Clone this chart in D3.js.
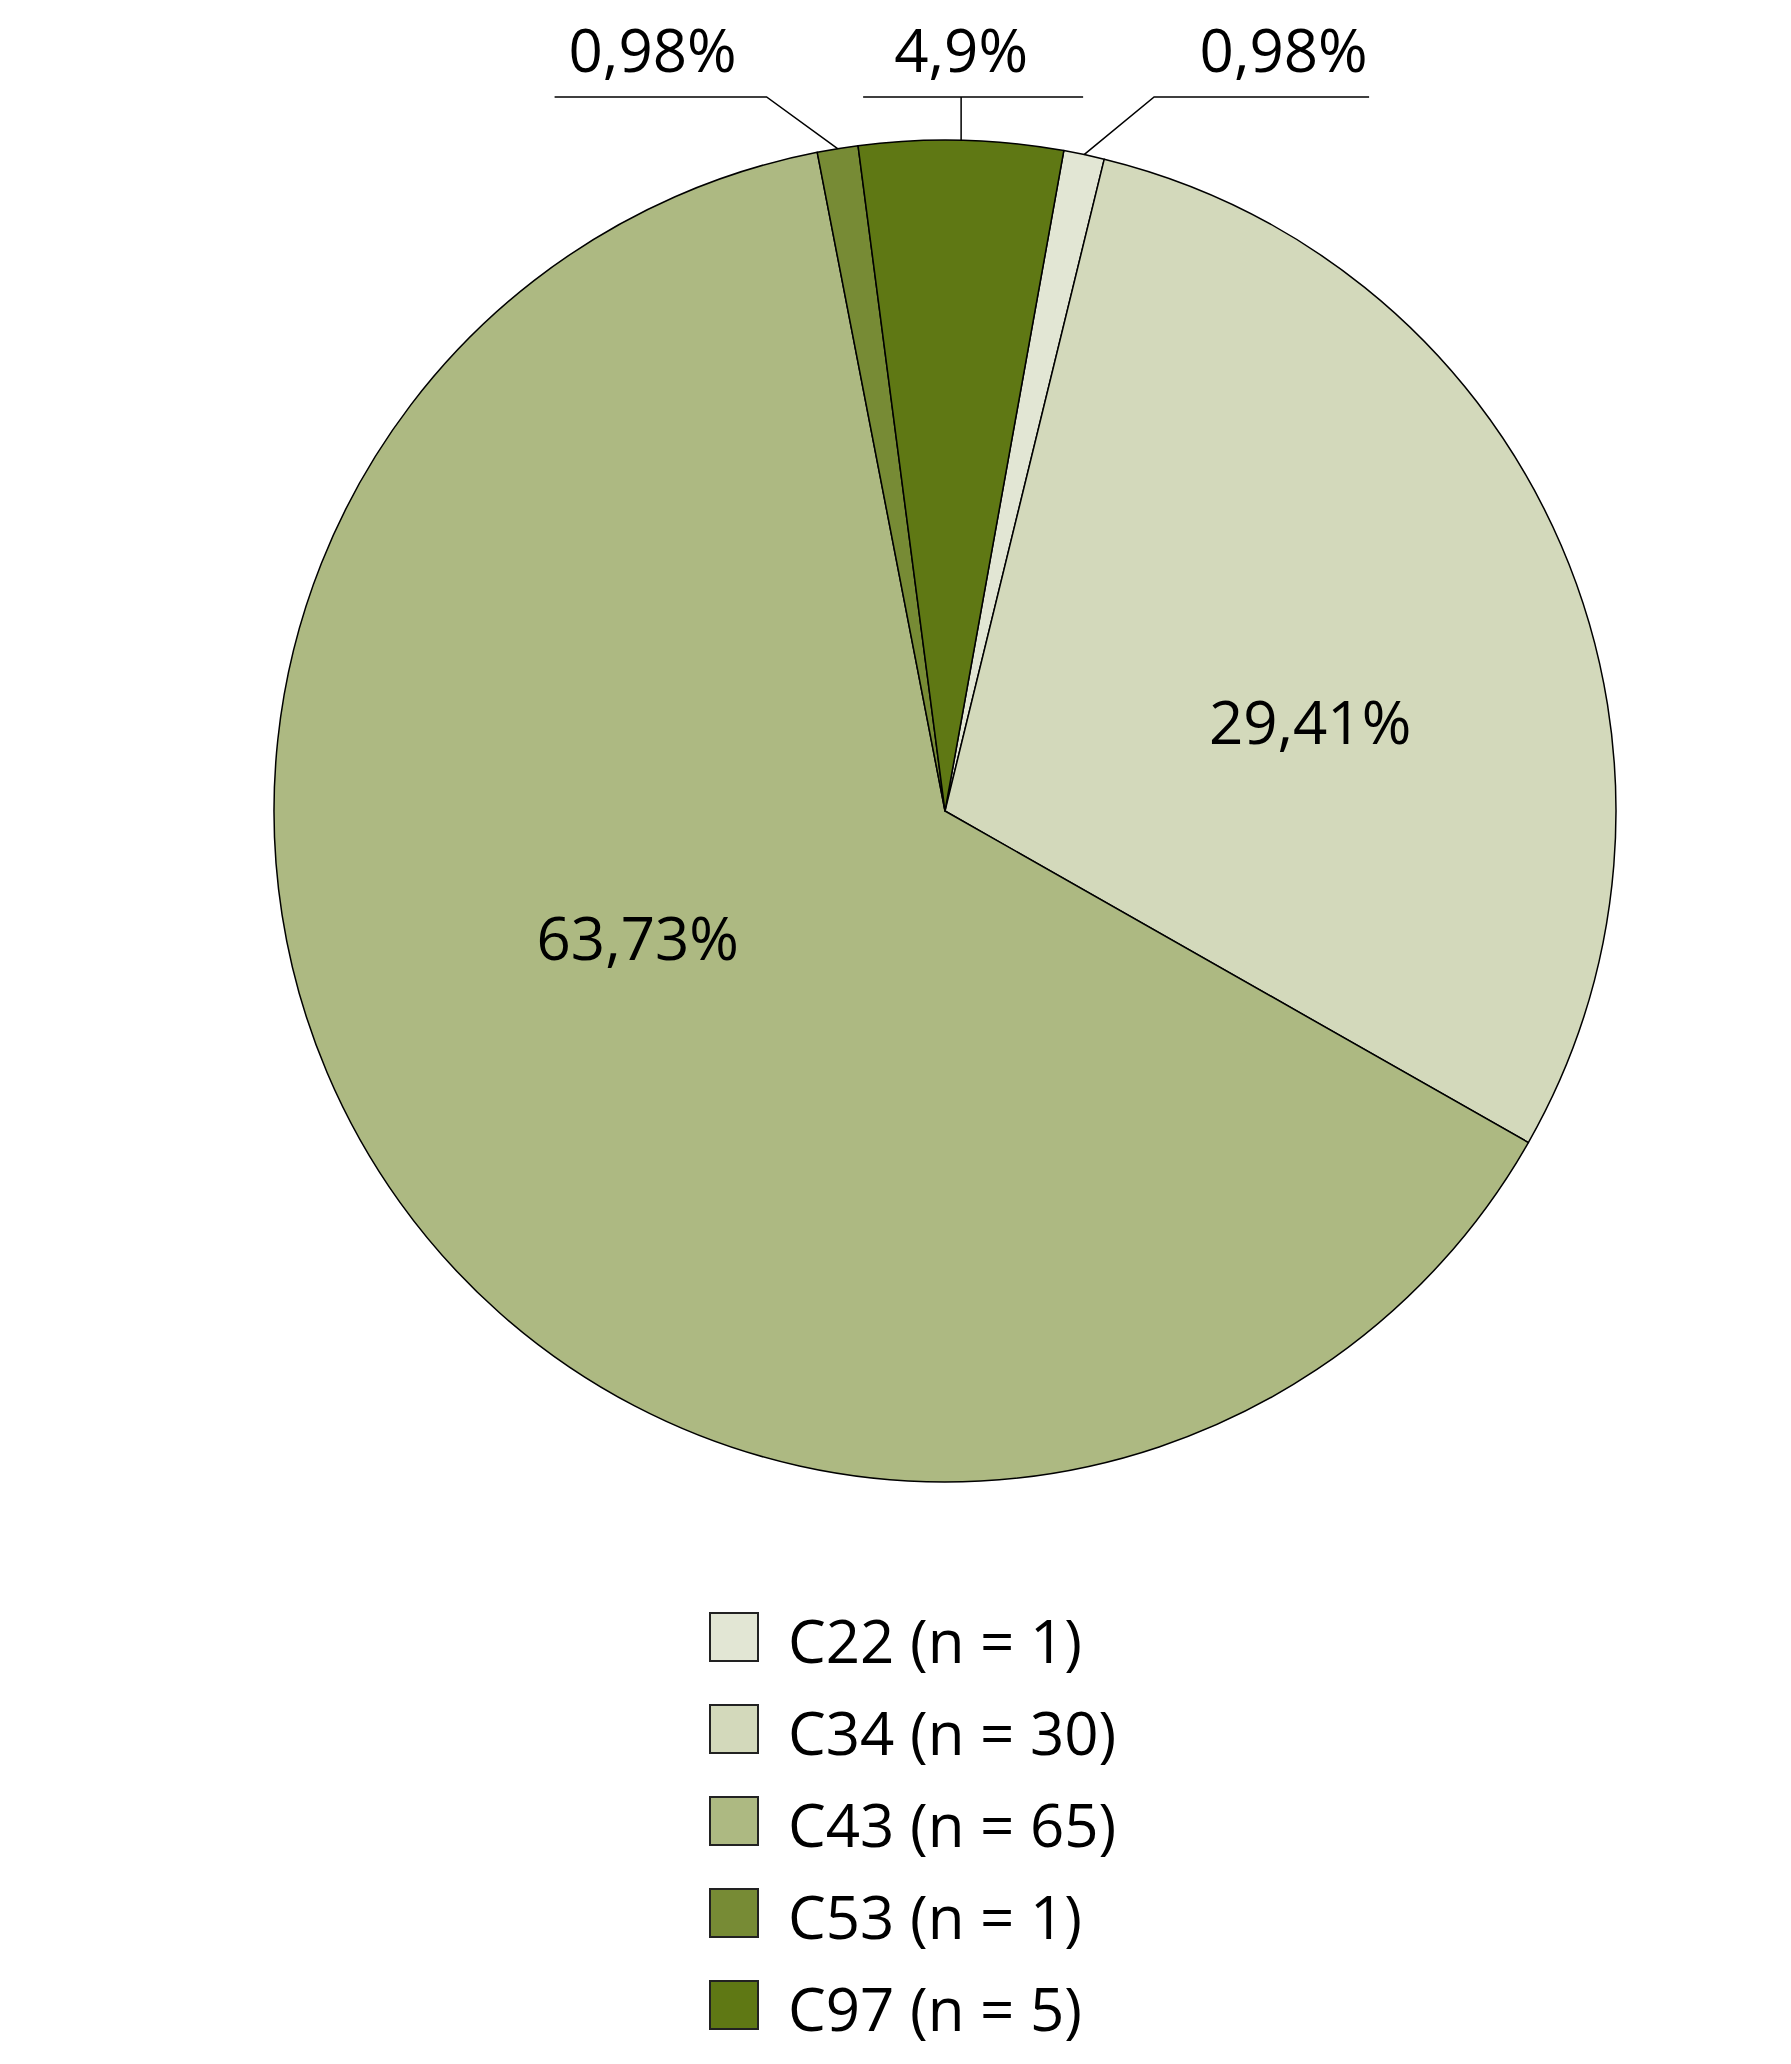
<!DOCTYPE html>
<html>
<head>
<meta charset="utf-8">
<script src="https://cdn.jsdelivr.net/npm/d3@7"></script>
<style>
  body { margin: 0; background: #fff; }
  text { font-family: "Open Sans", sans-serif; fill: #000; }
</style>
</head>
<body>
<div id="chart"></div>
<script>
(function () {
    var width = 1791,
        height = 2064;

    // data
    var categories = ["C22", "C34", "C43", "C53", "C97"];
    var counts = [1, 30, 65, 1, 5];
    var percentLabels = ["0,98%", "29,41%", "63,73%", "0,98%", "4,9%"];
    var colors = ["#e2e6d4", "#d3d9bb", "#adb982", "#778b35", "#5f7814"];

    var cx = 945, cy = 811, radius = 671;
    var startDeg = 10.2;

    var svg = d3.select("#chart")
        .append("svg")
        .attr("width", width)
        .attr("height", height);

    var pie = d3.pie()
        .sort(null)
        .value(function (d) { return d; })
        .startAngle(startDeg * Math.PI / 180)
        .endAngle((startDeg + 360) * Math.PI / 180);

    var arc = d3.arc().innerRadius(0).outerRadius(radius);

    var slices = pie(counts);

    var g = svg.append("g")
        .attr("transform", "translate(" + cx + "," + cy + ")");

    g.selectAll(".slice")
        .data(slices)
        .enter().append("path")
        .attr("class", "slice")
        .attr("d", arc)
        .attr("fill", function (d, i) { return colors[i]; })
        .attr("stroke", "#000")
        .attr("stroke-width", 1.5)
        .attr("stroke-linejoin", "round");

    // labels inside the big slices (polar position, degrees from top / radius fraction)
    var inside = { 1: { angle: 76.3, r: 0.56 }, 2: { angle: 247.4, r: 0.496 } };

    Object.keys(inside).forEach(function (k) {
        var p = inside[k];
        var a = p.angle * Math.PI / 180;
        g.append("text")
            .attr("x", Math.sin(a) * radius * p.r)
            .attr("y", -Math.cos(a) * radius * p.r)
            .attr("dy", "0.36em")
            .attr("text-anchor", "middle")
            .attr("font-size", 60)
            .text(percentLabels[k]);
    });

    // small slices get callouts above the pie
    var elbowY = 97 - cy;
    var callouts = [
        { i: 0, dx: 70, from: 0, to: 215, shift: 22 },
        { i: 3, dx: -71, from: -212, to: 0, shift: -8 },
        { i: 4, dx: 0, from: -98, to: 122, shift: -12 }
    ];

    callouts.forEach(function (c) {
        var d = slices[c.i];
        var mid = (d.startAngle + d.endAngle) / 2;
        var ex = Math.sin(mid) * radius,
            ey = -Math.cos(mid) * radius;
        var kx = ex + c.dx;
        var x0 = kx + c.from, x1 = kx + c.to;
        g.append("polyline")
            .attr("points", [[ex, ey], [kx, elbowY], [x0, elbowY], [x1, elbowY]].map(function (p) { return p.join(","); }).join(" "))
            .attr("fill", "none")
            .attr("stroke", "#000")
            .attr("stroke-width", 1.5);
        g.append("text")
            .attr("x", (x0 + x1) / 2 + c.shift)
            .attr("y", elbowY - 25)
            .attr("text-anchor", "middle")
            .attr("font-size", 60)
            .text(percentLabels[c.i]);
    });

    // legend
    var legend = svg.append("g")
        .attr("transform", "translate(710,1613)");

    var rows = legend.selectAll(".row")
        .data(categories)
        .enter().append("g")
        .attr("class", "row")
        .attr("transform", function (d, i) { return "translate(0," + i * 92 + ")"; });

    rows.append("rect")
        .attr("width", 48)
        .attr("height", 48)
        .attr("fill", function (d, i) { return colors[i]; })
        .attr("stroke", "#222")
        .attr("stroke-width", 2);

    rows.append("text")
        .attr("x", 78)
        .attr("y", 50)
        .attr("font-size", 60)
        .text(function (d, i) { return d + " (n = " + counts[i] + ")"; });
})();
</script>
</body>
</html>
